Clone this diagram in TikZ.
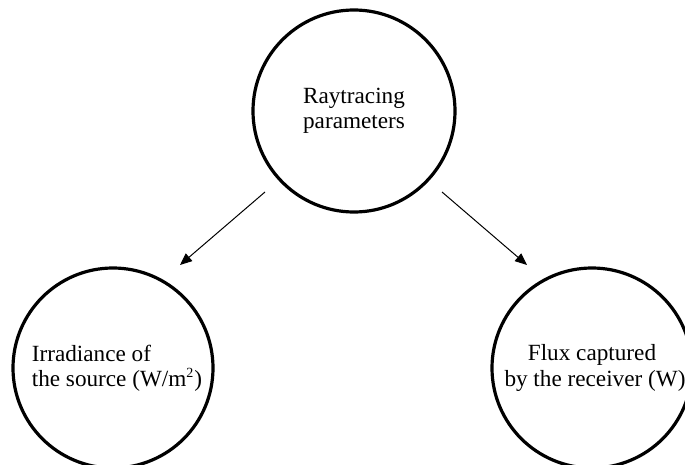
\documentclass[tikz,border=0pt]{standalone}
\usepackage{fontspec}
\setmainfont{Liberation Serif}
\usetikzlibrary{arrows.meta, positioning}

\begin{document}
\begin{tikzpicture}[x=0.5pt, y=-0.5pt, >={Triangle[length=6pt, width=5pt]},
    font=\fontsize{11.6}{12.6}\selectfont,
    bubble/.style={circle, draw, line width=1.6pt, inner sep=0pt, minimum size=100pt},
    link/.style={->, line width=0.5pt}]
  \useasboundingbox (0, 0) rectangle (685, 465);

  \node[bubble, minimum size=101pt, align=center] (ray) at (354, 111) {Raytracing\\parameters};
  \node[bubble, align=left] (irr) at (113, 368)
    {\hspace*{4pt}Irradiance of\\\hspace*{4pt}the source (W/m\textsuperscript{\scriptsize 2})};
  \node[bubble, align=center] (flux) at (592, 368) {Flux captured\\\hspace*{3pt}by the receiver (W)};

  \coordinate (irrtop) at (180, 265);
  \coordinate (fluxtop) at (527, 265);
  \coordinate (raysw) at (265, 192);
  \coordinate (rayse) at (442, 192);

  \draw[link] (raysw) -- (irrtop);
  \draw[link] (rayse) -- (fluxtop);
\end{tikzpicture}
\end{document}
